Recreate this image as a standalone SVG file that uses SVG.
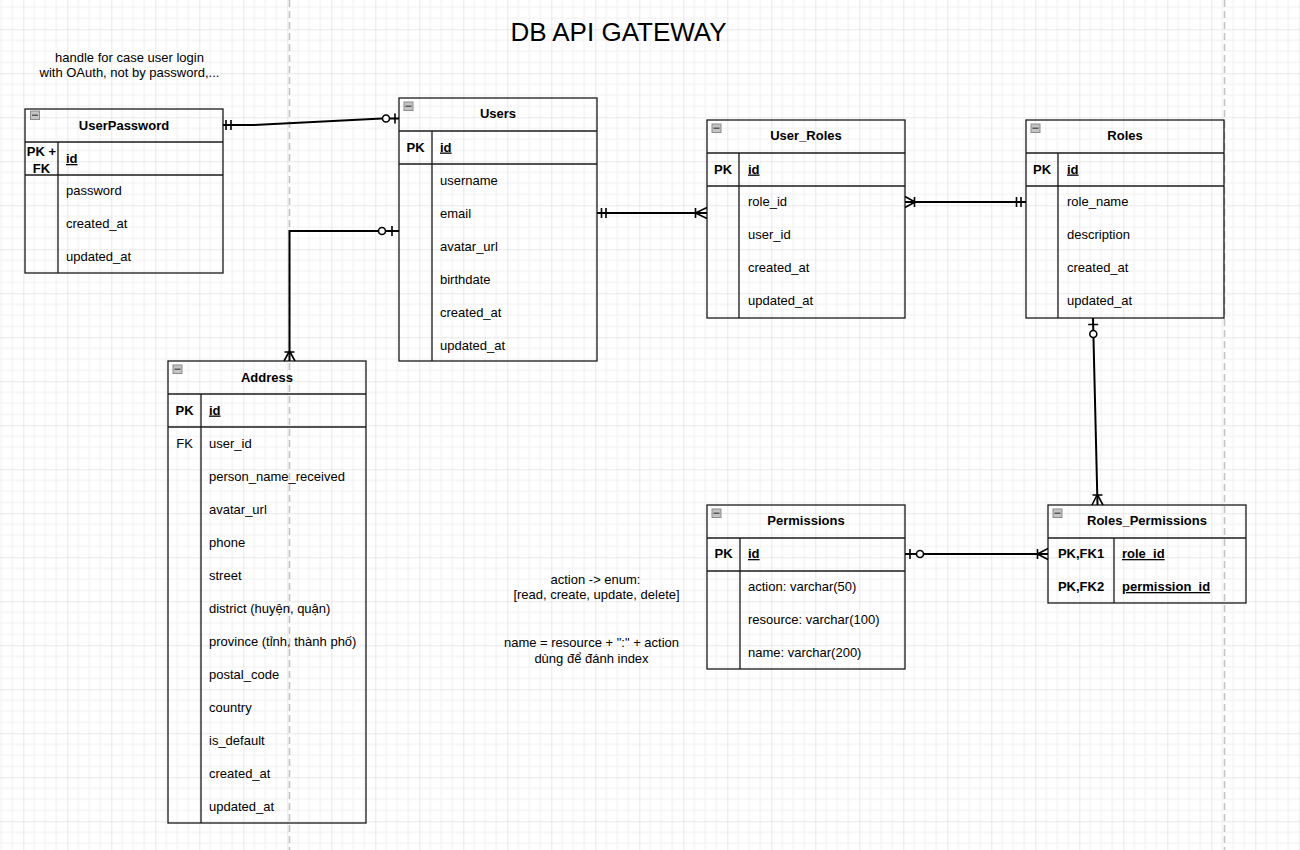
<svg xmlns="http://www.w3.org/2000/svg" xmlns:xlink="http://www.w3.org/1999/xlink" width="1300" height="850" viewBox="0 0 1300 850">
<style>
.tb{fill:none;stroke:#1a1a1a;stroke-width:1.3}
.ln{stroke:#1a1a1a;stroke-width:1.3}
.t{font-family:"Liberation Sans",Arial,Helvetica,sans-serif;font-size:13px;fill:#000}
.h{font-weight:bold;text-anchor:middle}
.k{font-weight:bold;text-anchor:middle}
.kn{text-anchor:middle}
.pk{font-weight:bold;text-decoration:underline}
.e{fill:none;stroke:#000;stroke-width:2}
.m{fill:none;stroke:#000;stroke-width:1.6}
.c{fill:#fff;stroke:#000;stroke-width:1.6}
.note{font-family:"Liberation Sans",Arial,Helvetica,sans-serif;font-size:13px;fill:#000;text-anchor:middle}
.page{stroke:#c4c4c4;stroke-width:1.6;stroke-dasharray:7 4}
</style>
<defs>
<pattern id="grid" x="23.3" y="29.3" width="44" height="44" patternUnits="userSpaceOnUse">
<path d="M11 0V44M22 0V44M33 0V44M0 11H44M0 22H44M0 33H44" stroke="#efefef" stroke-width="1"/>
<path d="M0 0V44M0 0H44" stroke="#d2d2d2" stroke-width="1"/>
</pattern>
<g id="icon">
<rect x="0.5" y="0.5" width="9" height="8.5" fill="#c4c4c4" stroke="#8c8c8c" stroke-width="1"/>
<line x1="2" y1="4.75" x2="8" y2="4.75" stroke="#5a5a5a" stroke-width="1.5"/>
</g>
</defs>
<rect width="1300" height="850" fill="#fff"/>
<rect width="1300" height="850" fill="url(#grid)"/>
<line class="page" x1="289.5" y1="0" x2="289.5" y2="850"/>
<line class="page" x1="1224.5" y1="0" x2="1224.5" y2="850"/>

<text x="618.5" y="40.5" font-family="Liberation Sans,Arial,sans-serif" font-size="26" text-anchor="middle">DB API GATEWAY</text>

<g id="notes">
<text class="note" x="129.5" y="61.5">handle for case user login</text>
<text class="note" x="129.5" y="76.5">with OAuth, not by password,...</text>
<text class="note" x="595.5" y="583.5">action -&gt; enum:</text>
<text class="note" x="596.5" y="598.5">[read, create, update, delete]</text>
<text class="note" x="591.5" y="647">name = resource + ":" + action</text>
<text class="note" x="591.5" y="662.5">dùng để đánh index</text>
</g>

<g id="UserPassword">
<rect class="tb" x="25" y="109" width="198" height="164"/>
<line class="ln" x1="25" y1="142" x2="223" y2="142"/>
<line class="ln" x1="25" y1="175" x2="223" y2="175"/>
<line class="ln" x1="58" y1="142" x2="58" y2="273"/>
<use xlink:href="#icon" x="30" y="110.5"/>
<text class="t h" x="124" y="129.5">UserPassword</text>
<text class="t k" x="41.5" y="156">PK +</text>
<text class="t k" x="41.5" y="172.5">FK</text>
<text class="t pk" x="66" y="163">id</text>
<text class="t" x="66" y="195">password</text>
<text class="t" x="66" y="228">created_at</text>
<text class="t" x="66" y="261">updated_at</text>
</g>

<g id="Users">
<rect class="tb" x="399" y="98" width="198" height="263"/>
<line class="ln" x1="399" y1="131" x2="597" y2="131"/>
<line class="ln" x1="399" y1="164" x2="597" y2="164"/>
<line class="ln" x1="432" y1="131" x2="432" y2="361"/>
<use xlink:href="#icon" x="403.5" y="101.5"/>
<text class="t h" x="498" y="118">Users</text>
<text class="t k" x="415.5" y="151.5">PK</text>
<text class="t pk" x="440" y="151.5">id</text>
<text class="t" x="440" y="184.5">username</text>
<text class="t" x="440" y="217.5">email</text>
<text class="t" x="440" y="250.5">avatar_url</text>
<text class="t" x="440" y="283.5">birthdate</text>
<text class="t" x="440" y="316.5">created_at</text>
<text class="t" x="440" y="349.5">updated_at</text>
</g>

<g id="User_Roles">
<rect class="tb" x="707" y="120" width="198" height="198"/>
<line class="ln" x1="707" y1="153" x2="905" y2="153"/>
<line class="ln" x1="707" y1="186" x2="905" y2="186"/>
<line class="ln" x1="739" y1="153" x2="739" y2="318"/>
<use xlink:href="#icon" x="711.5" y="123.5"/>
<text class="t h" x="806" y="140">User_Roles</text>
<text class="t k" x="723" y="173.5">PK</text>
<text class="t pk" x="748" y="173.5">id</text>
<text class="t" x="748" y="205.5">role_id</text>
<text class="t" x="748" y="238.5">user_id</text>
<text class="t" x="748" y="271.5">created_at</text>
<text class="t" x="748" y="304.5">updated_at</text>
</g>

<g id="Roles">
<rect class="tb" x="1026" y="120" width="198" height="198"/>
<line class="ln" x1="1026" y1="153" x2="1224" y2="153"/>
<line class="ln" x1="1026" y1="186" x2="1224" y2="186"/>
<line class="ln" x1="1058" y1="153" x2="1058" y2="318"/>
<use xlink:href="#icon" x="1030.5" y="123.5"/>
<text class="t h" x="1125" y="140">Roles</text>
<text class="t k" x="1042" y="173.5">PK</text>
<text class="t pk" x="1067" y="173.5">id</text>
<text class="t" x="1067" y="205.5">role_name</text>
<text class="t" x="1067" y="238.5">description</text>
<text class="t" x="1067" y="271.5">created_at</text>
<text class="t" x="1067" y="304.5">updated_at</text>
</g>

<g id="Address">
<rect class="tb" x="168" y="361" width="198" height="462"/>
<line class="ln" x1="168" y1="394" x2="366" y2="394"/>
<line class="ln" x1="168" y1="427" x2="366" y2="427"/>
<line class="ln" x1="201" y1="394" x2="201" y2="823"/>
<use xlink:href="#icon" x="172.5" y="364.5"/>
<text class="t h" x="267" y="381.5">Address</text>
<text class="t k" x="184.5" y="414.5">PK</text>
<text class="t pk" x="209" y="414.5">id</text>
<text class="t kn" x="184.5" y="447.5">FK</text>
<text class="t" x="209" y="447.5">user_id</text>
<text class="t" x="209" y="480.5">person_name_received</text>
<text class="t" x="209" y="513.5">avatar_url</text>
<text class="t" x="209" y="546.5">phone</text>
<text class="t" x="209" y="579.5">street</text>
<text class="t" x="209" y="612.5">district (huyện, quận)</text>
<text class="t" x="209" y="645.5">province (tỉnh, thành phố)</text>
<text class="t" x="209" y="678.5">postal_code</text>
<text class="t" x="209" y="711.5">country</text>
<text class="t" x="209" y="744.5">is_default</text>
<text class="t" x="209" y="777.5">created_at</text>
<text class="t" x="209" y="810.5">updated_at</text>
</g>

<g id="Permissions">
<rect class="tb" x="707" y="505" width="198" height="164"/>
<line class="ln" x1="707" y1="538" x2="905" y2="538"/>
<line class="ln" x1="707" y1="571" x2="905" y2="571"/>
<line class="ln" x1="740" y1="538" x2="740" y2="669"/>
<use xlink:href="#icon" x="711.5" y="508.5"/>
<text class="t h" x="806" y="525">Permissions</text>
<text class="t k" x="723.5" y="558">PK</text>
<text class="t pk" x="748" y="558">id</text>
<text class="t" x="748" y="591">action: varchar(50)</text>
<text class="t" x="748" y="624">resource: varchar(100)</text>
<text class="t" x="748" y="657">name: varchar(200)</text>
</g>

<g id="Roles_Permissions">
<rect class="tb" x="1048" y="505" width="198" height="98"/>
<line class="ln" x1="1048" y1="538" x2="1246" y2="538"/>
<line class="ln" x1="1114" y1="538" x2="1114" y2="603"/>
<use xlink:href="#icon" x="1052.5" y="508.5"/>
<text class="t h" x="1147" y="525">Roles_Permissions</text>
<text class="t k" x="1081" y="558">PK,FK1</text>
<text class="t pk" x="1122" y="558">role_id</text>
<text class="t k" x="1081" y="591">PK,FK2</text>
<text class="t pk" x="1122" y="591">permission_id</text>
</g>

<g id="connectors">
<!-- UserPassword - Users -->
<path class="e" d="M223 125 L254 125 L382 118.5 L399 118.5"/>
<path class="m" d="M226 120V130M231 120V130M395 113.5V123.5"/>
<circle class="c" cx="386" cy="118.5" r="3.5"/>
<!-- Users - Address -->
<path class="e" d="M399 231 H289.5 V361"/>
<path class="m" d="M392 226V236M284.5 352H294.5M289.5 351L284 361M289.5 351L295 361"/>
<circle class="c" cx="382" cy="231" r="3.5"/>
<!-- Users - User_Roles -->
<path class="e" d="M597 213 H707"/>
<path class="m" d="M601.5 208V218M606 208V218M695.5 208V218M695.5 213L707 207.5M695.5 213L707 218.5"/>
<!-- User_Roles - Roles -->
<path class="e" d="M905 202 H1026" stroke-width="2.8"/>
<path class="m" d="M914.5 197V207M905 196.5L915 202M905 207.5L915 202M1016.5 197V207M1021 197V207"/>
<!-- Roles - Roles_Permissions -->
<path class="e" d="M1093 318 L1097.5 505"/>
<path class="m" d="M1088.2 324.5H1098.2M1092.5 495H1102.5M1097.3 494.5L1092 505M1097.3 494.5L1103 505"/>
<circle class="c" cx="1093.3" cy="334" r="3.5"/>
<!-- Permissions - Roles_Permissions -->
<path class="e" d="M905 554 H1048"/>
<path class="m" d="M910 549V559M1037.5 549V559M1037.5 554L1048 548.5M1037.5 554L1048 559.5"/>
<circle class="c" cx="920" cy="554" r="3.5"/>
</g>
</svg>
